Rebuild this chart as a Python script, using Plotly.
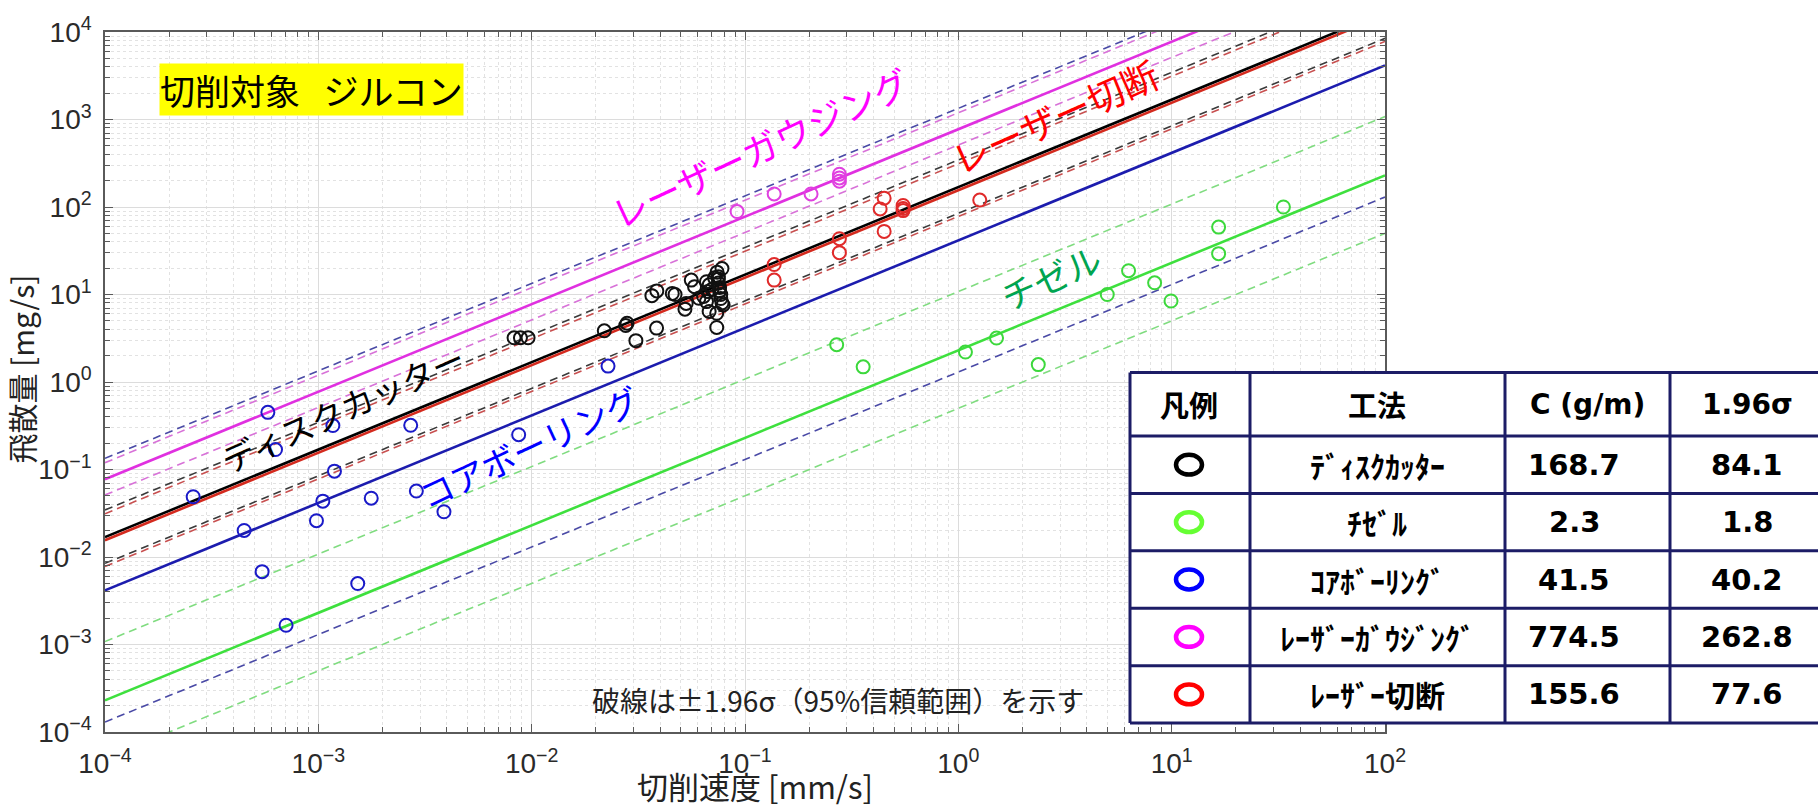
import plotly.graph_objects as go

# ---------------- data ----------------
methods_tbl = ["ﾃﾞｨｽｸｶｯﾀｰ", "ﾁｾﾞﾙ", "ｺｱﾎﾞｰﾘﾝｸﾞ", "ﾚｰｻﾞｰｶﾞｳｼﾞﾝｸﾞ", "ﾚｰｻﾞｰ切断"]
C_vals = [168.7, 2.3, 41.5, 774.5, 155.6]          # g/m
sig196 = [84.1, 1.8, 40.2, 262.8, 77.6]
# dashed band coefficients (lower = C-1.96σ, upper drawn log-symmetric)
band_low = [84.6, 0.5, 1.3, 511.7, 78.0]
band_up = [345.0, 10.8, 1340.0, 1195.0, 312.0]

speed_range = [1e-4, 1e2]

disk_x = [0.00827, 0.00886, 0.00962, 0.0219, 0.0276, 0.0280, 0.0308, 0.0385, 0.0366, 0.0386,
          0.0456, 0.0470, 0.0523, 0.0530, 0.0560, 0.0580, 0.0608, 0.0660, 0.0660, 0.0670,
          0.0680, 0.0679, 0.0737, 0.0737, 0.0740, 0.0750, 0.0750, 0.0750, 0.0760, 0.0760,
          0.0770, 0.0770, 0.0780, 0.0780, 0.0790, 0.0720, 0.0700, 0.0640]
disk_y = [3.2, 3.2, 3.2, 3.85, 4.43, 4.7, 2.97, 4.13, 9.7, 11.0,
          10.3, 10.0, 6.8, 7.9, 14.6, 12.3, 9.06, 14.0, 8.3, 10.8,
          12.9, 6.4, 6.1, 4.2, 18.0, 16.0, 15.0, 13.5, 12.0, 11.0,
          10.0, 9.0, 19.8, 8.0, 7.6, 15.5, 11.5, 9.5]

chisel_x = [0.269, 0.358, 1.08, 1.51, 2.37, 4.99, 6.28, 8.32, 9.93, 16.6, 16.6, 33.4]
chisel_y = [2.67, 1.49, 2.2, 3.18, 1.58, 10.0, 18.7, 13.6, 8.43, 58.9, 29.3, 100.0]

core_x = [2.59e-4, 5.8e-4, 6.3e-4, 1.17e-3, 1.19e-3, 1.05e-3, 9.8e-4, 4.49e-4, 5.45e-4,
          7.06e-4, 1.53e-3, 1.77e-3, 2.71e-3, 2.88e-3, 3.88e-3, 8.69e-3, 0.0228]
core_y = [0.0488, 0.45, 0.169, 0.318, 0.0957, 0.0435, 0.026, 0.0201, 0.0068,
          0.00166, 0.00497, 0.047, 0.32, 0.0567, 0.0329, 0.25, 1.52]

gouge_x = [0.0918, 0.137, 0.204, 0.277, 0.277, 0.277]
gouge_y = [88.7, 141.0, 141.0, 237.0, 215.0, 197.0]

lcut_x = [0.137, 0.137, 0.277, 0.277, 0.430, 0.449, 0.449, 0.551, 0.551, 0.551, 1.26]
lcut_y = [22.0, 14.6, 43.4, 30.1, 95.0, 126.0, 52.6, 104.0, 91.0, 96.0, 120.0]

x_tick_vals = [1e-4, 1e-3, 1e-2, 1e-1, 1e0, 1e1, 1e2]
x_tick_text = ["10<sup>−4</sup>", "10<sup>−3</sup>", "10<sup>−2</sup>", "10<sup>−1</sup>",
               "10<sup>0</sup>", "10<sup>1</sup>", "10<sup>2</sup>"]
y_tick_vals = [1e-4, 1e-3, 1e-2, 1e-1, 1e0, 1e1, 1e2, 1e3, 1e4]
y_tick_text = ["10<sup>−4</sup>", "10<sup>−3</sup>", "10<sup>−2</sup>", "10<sup>−1</sup>",
               "10<sup>0</sup>", "10<sup>1</sup>", "10<sup>2</sup>", "10<sup>3</sup>", "10<sup>4</sup>"]
minor_mult = [2, 3, 4, 5, 6, 7, 8, 9]

# ---------------- styles ----------------
solid_col = ["#000000", "#3ee03e", "#1c1cae", "#e030e0", "#d42a1e"]
dash_col = ["#3a3a3a", "#80dc80", "#4a4aa6", "#d872d8", "#c85050"]
mark_col = ["#111111", "#3cd83c", "#1a1ac8", "#e040e0", "#e02a2a"]
legend_col = ["#000000", "#66ff33", "#0000ff", "#ff00ff", "#ff0000"]

W, H = 1818, 807
L, R, T, B = 105, 1385, 25, 732


def px(x):
    return (x - L) / (R - L)


def py(y):
    return (B - y) / (B - T)


fig = go.Figure()

# dashed bands
for i in [1, 2, 3, 0, 4]:
    for coef in (band_low[i], band_up[i]):
        fig.add_trace(go.Scatter(
            x=speed_range, y=[coef * v for v in speed_range], mode="lines",
            line=dict(color=dash_col[i], width=1.6, dash="8px,5px"),
            showlegend=False, hoverinfo="skip"))

# regression lines y = C * v
for i in [1, 2, 3, 0, 4]:
    fig.add_trace(go.Scatter(
        x=speed_range, y=[C_vals[i] * v for v in speed_range], mode="lines",
        line=dict(color=solid_col[i], width=2.6),
        showlegend=False, hoverinfo="skip"))

# data points
point_sets = [(disk_x, disk_y, 0), (chisel_x, chisel_y, 1), (core_x, core_y, 2),
              (gouge_x, gouge_y, 3), (lcut_x, lcut_y, 4)]
for xs, ys, i in point_sets:
    fig.add_trace(go.Scatter(
        x=xs, y=ys, mode="markers",
        marker=dict(symbol="circle-open", size=13, color=mark_col[i], line=dict(width=2)),
        showlegend=False, name=methods_tbl[i]))

tick_font = dict(family="Liberation Sans, Arial, sans-serif", size=28, color="#2a2a2a")
grid_major = "#dcdcdc"
grid_minor = "#e2e2e2"

common = dict(
    showline=True, linecolor="#5a5a5a", linewidth=1.5, mirror="ticks",
    ticks="inside", ticklen=8, tickcolor="#5a5a5a", tickwidth=1,
    showgrid=True, gridcolor=grid_major, gridwidth=1,
    tickfont=tick_font, zeroline=False)

fig.update_xaxes(
    type="log", range=[-4, 2], tickvals=x_tick_vals, ticktext=x_tick_text,
    ticklabelstandoff=6,
    minor=dict(tickvals=[m * d for d in x_tick_vals[:-1] for m in minor_mult],
               ticks="inside", ticklen=5, tickcolor="#5a5a5a",
               showgrid=True, gridcolor=grid_minor, griddash="dot", gridwidth=1),
    **common)
fig.update_yaxes(
    type="log", range=[-4, 4], tickvals=y_tick_vals, ticktext=y_tick_text,
    ticklabelstandoff=6,
    minor=dict(tickvals=[m * d for d in y_tick_vals[:-1] for m in minor_mult],
               ticks="inside", ticklen=5, tickcolor="#5a5a5a",
               showgrid=True, gridcolor=grid_minor, griddash="dot", gridwidth=1),
    **common)

jp = "Noto Sans CJK JP"
ann = []
shapes = []

# title box
ann.append(dict(x=px(159), y=py(83), xref="paper", yref="paper",
                text="切削対象\u00a0\u00a0\u00a0ジルコン",
                showarrow=False, font=dict(family=jp, size=35, color="#000"),
                bgcolor="#ffff00", borderpad=0, xanchor="left", yanchor="middle"))

# rotated labels
rot = [
    ("レーザーガウジング", 759, 141, 36, "#ff00ff", -25),
    ("レーザー切断", 1054, 110, 37, "#ff0000", -24),
    ("ディスクカッター", 343, 405, 33, "#000000", -24),
    ("コアボーリング", 529, 444, 34, "#0000ff", -25),
    ("チゼル", 1050, 272, 35, "#00a550", -24),
]
for txt, x, y, s, c, a in rot:
    ann.append(dict(x=px(x), y=py(y), xref="paper", yref="paper", text=txt, showarrow=False,
                    font=dict(family=jp, size=s, color=c), textangle=a,
                    xanchor="center", yanchor="middle"))

ann.append(dict(x=px(838), y=py(700), xref="paper", yref="paper",
                text="破線は±1.96σ（95%信頼範囲）を示す", showarrow=False,
                font=dict(family=jp, size=28, color="#222"), xanchor="center", yanchor="middle"))

# axis titles
ann.append(dict(x=px(21), y=py(366), xref="paper", yref="paper", text="飛散量 [mg/s]",
                showarrow=False, font=dict(family=jp, size=30, color="#222"), textangle=-90,
                xanchor="center", yanchor="middle"))
ann.append(dict(x=px(755), y=py(786), xref="paper", yref="paper", text="切削速度 [mm/s]",
                showarrow=False, font=dict(family=jp, size=31, color="#222"),
                xanchor="center", yanchor="middle"))

# table
tl, tr = 1130, 1840
col_x = [1130, 1250, 1505, 1670]
row_y = [369, 433, 491, 549, 607, 665, 723]
navy = "#1c1c66"
shapes.append(dict(type="rect", xref="paper", yref="paper", x0=px(tl), x1=px(tr),
                   y0=py(row_y[-1]), y1=py(row_y[0]), fillcolor="white",
                   line=dict(width=0), layer="above"))
for yy in row_y:
    shapes.append(dict(type="line", xref="paper", yref="paper", x0=px(tl), x1=px(tr),
                       y0=py(yy), y1=py(yy), line=dict(color=navy, width=3), layer="above"))
for xx in col_x:
    shapes.append(dict(type="line", xref="paper", yref="paper", x0=px(xx), x1=px(xx),
                       y0=py(row_y[0]), y1=py(row_y[-1]), line=dict(color=navy, width=3),
                       layer="above"))

col_c = [1189, 1377, 1574, 1747]
hdr = ["凡例", "工法", "C (g/m)", "1.96σ"]
hdr_font = [jp, jp, "DejaVu Sans", "DejaVu Sans"]
hy = (row_y[0] + row_y[1]) / 2
for k in range(4):
    ann.append(dict(x=px(col_c[k] if k != 2 else 1587), y=py(hy), xref="paper", yref="paper",
                    text="<b>" + hdr[k] + "</b>", showarrow=False,
                    font=dict(family=hdr_font[k], size=29 if k < 2 else 28, color="#000"),
                    xanchor="center", yanchor="middle"))
for i in range(5):
    cy = (row_y[i + 1] + row_y[i + 2]) / 2
    shapes.append(dict(type="circle", xref="paper", yref="paper",
                       x0=px(col_c[0] - 13), x1=px(col_c[0] + 13),
                       y0=py(cy + 10), y1=py(cy - 10),
                       line=dict(color=legend_col[i], width=4.5), layer="above"))
    ann.append(dict(x=px(col_c[1]), y=py(cy), xref="paper", yref="paper",
                    text="<b>" + methods_tbl[i] + "</b>", showarrow=False,
                    font=dict(family=jp, size=30, color="#000"),
                    xanchor="center", yanchor="middle"))
    ann.append(dict(x=px(col_c[2]), y=py(cy), xref="paper", yref="paper",
                    text="<b>%.1f</b>" % C_vals[i], showarrow=False,
                    font=dict(family="DejaVu Sans", size=29, color="#000"),
                    xanchor="center", yanchor="middle"))
    ann.append(dict(x=px(col_c[3]), y=py(cy), xref="paper", yref="paper",
                    text="<b>%.1f</b>" % sig196[i], showarrow=False,
                    font=dict(family="DejaVu Sans", size=29, color="#000"),
                    xanchor="center", yanchor="middle"))

fig.update_layout(
    width=W, height=H, autosize=False,
    margin=dict(l=L, r=W - R, t=T, b=H - B, pad=0),
    paper_bgcolor="white", plot_bgcolor="white",
    showlegend=False, annotations=ann, shapes=shapes,
)

fig.write_html("out.html", config={"displayModeBar": False},
               post_script="document.body.style.margin='0px';")
